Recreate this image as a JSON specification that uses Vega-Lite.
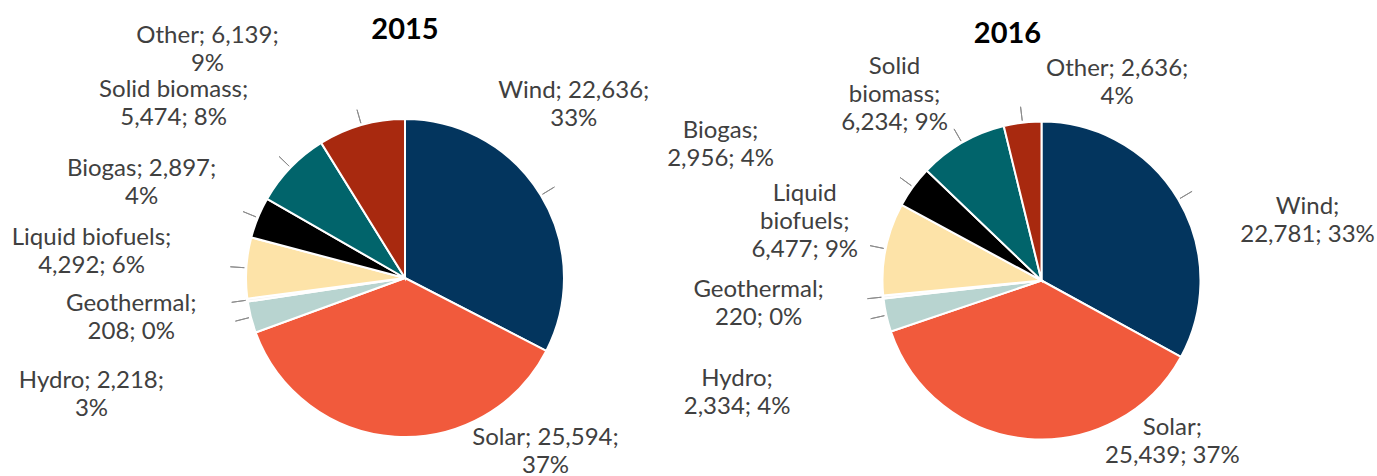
{
  "$schema": "https://vega.github.io/schema/vega-lite/v6.json",
  "background": "white",
  "padding": {"left": 11, "top": 16, "right": 0, "bottom": 0},
  "config": {"view": {"stroke": null}, "font": "Lato"},
  "datasets": {
    "energy": [
      {"year": "2015", "k": 1, "category": "Wind", "value": 22636, "label": "Wind; 22,636;|33%"},
      {"year": "2015", "k": 2, "category": "Solar", "value": 25594, "label": "Solar; 25,594;|37%"},
      {"year": "2015", "k": 3, "category": "Hydro", "value": 2218, "label": "Hydro; 2,218;|3%"},
      {"year": "2015", "k": 4, "category": "Geothermal", "value": 208, "label": "Geothermal;|208; 0%"},
      {"year": "2015", "k": 5, "category": "Liquid biofuels", "value": 4292, "label": "Liquid biofuels;|4,292; 6%"},
      {"year": "2015", "k": 6, "category": "Biogas", "value": 2897, "label": "Biogas; 2,897;|4%"},
      {"year": "2015", "k": 7, "category": "Solid biomass", "value": 5474, "label": "Solid biomass;|5,474; 8%"},
      {"year": "2015", "k": 8, "category": "Other", "value": 6139, "label": "Other; 6,139;|9%"},
      {"year": "2016", "k": 1, "category": "Wind", "value": 22781, "label": "Wind;|22,781; 33%"},
      {"year": "2016", "k": 2, "category": "Solar", "value": 25439, "label": "Solar;|25,439; 37%"},
      {"year": "2016", "k": 3, "category": "Hydro", "value": 2334, "label": "Hydro;|2,334; 4%"},
      {"year": "2016", "k": 4, "category": "Geothermal", "value": 220, "label": "Geothermal;|220; 0%"},
      {"year": "2016", "k": 5, "category": "Liquid biofuels", "value": 6477, "label": "Liquid|biofuels;|6,477; 9%"},
      {"year": "2016", "k": 6, "category": "Biogas", "value": 2956, "label": "Biogas;|2,956; 4%"},
      {"year": "2016", "k": 7, "category": "Solid biomass", "value": 6234, "label": "Solid|biomass;|6,234; 9%"},
      {"year": "2016", "k": 8, "category": "Other", "value": 2636, "label": "Other; 2,636;|4%"}
    ]
  },
  "data": {"name": "energy"},
  "bounds": "flush",
  "spacing": 16.5,
  "hconcat": [
    {
      "width": 620,
      "height": 360,
      "title": {"text": "2015", "font": "Lato", "fontSize": 29, "fontWeight": "bold", "color": "#000000", "anchor": "middle", "frame": "group", "baseline": "middle", "offset": -35.5},
      "transform": [
        {"filter": "datum.year == '2015'"},
        {"stack": "value", "groupby": ["year"], "sort": [{"field": "k", "order": "ascending"}], "offset": "normalize", "as": ["s0", "s1"]}
      ],
      "layer": [
        {
          "mark": {"type": "arc", "radius": 159, "stroke": "white", "strokeWidth": 2},
          "encoding": {
            "theta": {"field": "s0", "type": "quantitative", "scale": {"domain": [0, 1]}},
            "theta2": {"field": "s1"},
            "color": {"field": "category", "type": "nominal", "legend": null,
              "scale": {"domain": ["Wind", "Solar", "Hydro", "Geothermal", "Liquid biofuels", "Biogas", "Solid biomass", "Other"],
                        "range": ["#03355E", "#F15A3C", "#B8D4D0", "#F4F4F4", "#FDE3A8", "#000000", "#01646B", "#A8290F"]}}
          }
        },
        {
          "transform": [{"filter": "datum.category != 'Solar'"}],
          "mark": {"type": "arc", "radius": 175, "radius2": 161, "padAngle": 1.487, "fillOpacity": 0, "stroke": "#8c8c8c", "strokeWidth": 1},
          "encoding": {
            "theta": {"field": "s0", "type": "quantitative", "scale": {"domain": [0, 1]}},
            "theta2": {"field": "s1"}
          }
        },
        {"transform": [{"filter": "datum.category == 'Wind'"}, {"fold": ["s0", "s1"], "as": ["edge", "pos"]}],
         "mark": {"type": "text", "radius": 252, "thetaOffset": -0.290, "font": "Lato", "fontSize": 24, "color": "#404040", "lineBreak": "|", "lineHeight": 28, "align": "center", "baseline": "middle"},
         "encoding": {"theta": {"field": "pos", "aggregate": "mean", "type": "quantitative", "scale": {"domain": [0, 1]}}, "text": {"field": "label", "type": "nominal"}}},
        {"transform": [{"filter": "datum.category == 'Solar'"}, {"fold": ["s0", "s1"], "as": ["edge", "pos"]}],
         "mark": {"type": "text", "radius": 213, "thetaOffset": -0.784, "font": "Lato", "fontSize": 24, "color": "#404040", "lineBreak": "|", "lineHeight": 28, "align": "center", "baseline": "middle"},
         "encoding": {"theta": {"field": "pos", "aggregate": "mean", "type": "quantitative", "scale": {"domain": [0, 1]}}, "text": {"field": "label", "type": "nominal"}}},
        {"transform": [{"filter": "datum.category == 'Hydro'"}, {"fold": ["s0", "s1"], "as": ["edge", "pos"]}],
         "mark": {"type": "text", "radius": 330, "thetaOffset": -0.068, "font": "Lato", "fontSize": 24, "color": "#404040", "lineBreak": "|", "lineHeight": 28, "align": "center", "baseline": "middle"},
         "encoding": {"theta": {"field": "pos", "aggregate": "mean", "type": "quantitative", "scale": {"domain": [0, 1]}}, "text": {"field": "label", "type": "nominal"}}},
        {"transform": [{"filter": "datum.category == 'Geothermal'"}, {"fold": ["s0", "s1"], "as": ["edge", "pos"]}],
         "mark": {"type": "text", "radius": 275, "thetaOffset": 0.045, "font": "Lato", "fontSize": 24, "color": "#404040", "lineBreak": "|", "lineHeight": 28, "align": "center", "baseline": "middle"},
         "encoding": {"theta": {"field": "pos", "aggregate": "mean", "type": "quantitative", "scale": {"domain": [0, 1]}}, "text": {"field": "label", "type": "nominal"}}},
        {"transform": [{"filter": "datum.category == 'Liquid biofuels'"}, {"fold": ["s0", "s1"], "as": ["edge", "pos"]}],
         "mark": {"type": "text", "radius": 316, "thetaOffset": 0.063, "font": "Lato", "fontSize": 24, "color": "#404040", "lineBreak": "|", "lineHeight": 28, "align": "center", "baseline": "middle"},
         "encoding": {"theta": {"field": "pos", "aggregate": "mean", "type": "quantitative", "scale": {"domain": [0, 1]}}, "text": {"field": "label", "type": "nominal"}}},
        {"transform": [{"filter": "datum.category == 'Biogas'"}, {"fold": ["s0", "s1"], "as": ["edge", "pos"]}],
         "mark": {"type": "text", "radius": 285, "thetaOffset": 0.003, "font": "Lato", "fontSize": 24, "color": "#404040", "lineBreak": "|", "lineHeight": 28, "align": "center", "baseline": "middle"},
         "encoding": {"theta": {"field": "pos", "aggregate": "mean", "type": "quantitative", "scale": {"domain": [0, 1]}}, "text": {"field": "label", "type": "nominal"}}},
        {"transform": [{"filter": "datum.category == 'Solid biomass'"}, {"fold": ["s0", "s1"], "as": ["edge", "pos"]}],
         "mark": {"type": "text", "radius": 298, "thetaOffset": -0.086, "font": "Lato", "fontSize": 24, "color": "#404040", "lineBreak": "|", "lineHeight": 28, "align": "center", "baseline": "middle"},
         "encoding": {"theta": {"field": "pos", "aggregate": "mean", "type": "quantitative", "scale": {"domain": [0, 1]}}, "text": {"field": "label", "type": "nominal"}}},
        {"transform": [{"filter": "datum.category == 'Other'"}, {"fold": ["s0", "s1"], "as": ["edge", "pos"]}],
         "mark": {"type": "text", "radius": 312.4, "thetaOffset": -0.4067, "font": "Lato", "fontSize": 24, "color": "#404040", "lineBreak": "|", "lineHeight": 28, "align": "center", "baseline": "middle"},
         "encoding": {"theta": {"field": "pos", "aggregate": "mean", "type": "quantitative", "scale": {"domain": [0, 1]}}, "text": {"field": "label", "type": "nominal"}}}
      ]
    },
    {
      "width": 620,
      "height": 365,
      "title": {"text": "2016", "font": "Lato", "fontSize": 29, "fontWeight": "bold", "color": "#000000", "anchor": "middle", "frame": "group", "baseline": "middle", "offset": -7.5, "dx": -34},
      "transform": [
        {"filter": "datum.year == '2016'"},
        {"stack": "value", "groupby": ["year"], "sort": [{"field": "k", "order": "ascending"}], "offset": "normalize", "as": ["s0", "s1"]}
      ],
      "layer": [
        {
          "mark": {"type": "arc", "radius": 159, "stroke": "white", "strokeWidth": 2},
          "encoding": {
            "theta": {"field": "s0", "type": "quantitative", "scale": {"domain": [0, 1]}},
            "theta2": {"field": "s1"},
            "color": {"field": "category", "type": "nominal", "legend": null,
              "scale": {"domain": ["Wind", "Solar", "Hydro", "Geothermal", "Liquid biofuels", "Biogas", "Solid biomass", "Other"],
                        "range": ["#03355E", "#F15A3C", "#B8D4D0", "#F4F4F4", "#FDE3A8", "#000000", "#01646B", "#A8290F"]}}
          }
        },
        {
          "transform": [{"filter": "datum.category != 'Solar'"}],
          "mark": {"type": "arc", "radius": 175, "radius2": 161, "padAngle": 1.487, "fillOpacity": 0, "stroke": "#8c8c8c", "strokeWidth": 1},
          "encoding": {
            "theta": {"field": "s0", "type": "quantitative", "scale": {"domain": [0, 1]}},
            "theta2": {"field": "s1"}
          }
        },
        {"transform": [{"filter": "datum.category == 'Wind'"}, {"fold": ["s0", "s1"], "as": ["edge", "pos"]}],
         "mark": {"type": "text", "radius": 276, "thetaOffset": 0.265, "font": "Lato", "fontSize": 24, "color": "#404040", "lineBreak": "|", "lineHeight": 28, "align": "center", "baseline": "middle"},
         "encoding": {"theta": {"field": "pos", "aggregate": "mean", "type": "quantitative", "scale": {"domain": [0, 1]}}, "text": {"field": "label", "type": "nominal"}}},
        {"transform": [{"filter": "datum.category == 'Solar'"}, {"fold": ["s0", "s1"], "as": ["edge", "pos"]}],
         "mark": {"type": "text", "radius": 197, "thetaOffset": -0.814, "font": "Lato", "fontSize": 24, "color": "#404040", "lineBreak": "|", "lineHeight": 28, "align": "center", "baseline": "middle"},
         "encoding": {"theta": {"field": "pos", "aggregate": "mean", "type": "quantitative", "scale": {"domain": [0, 1]}}, "text": {"field": "label", "type": "nominal"}}},
        {"transform": [{"filter": "datum.category == 'Hydro'"}, {"fold": ["s0", "s1"], "as": ["edge", "pos"]}],
         "mark": {"type": "text", "radius": 320, "thetaOffset": -0.093, "font": "Lato", "fontSize": 24, "color": "#404040", "lineBreak": "|", "lineHeight": 28, "align": "center", "baseline": "middle"},
         "encoding": {"theta": {"field": "pos", "aggregate": "mean", "type": "quantitative", "scale": {"domain": [0, 1]}}, "text": {"field": "label", "type": "nominal"}}},
        {"transform": [{"filter": "datum.category == 'Geothermal'"}, {"fold": ["s0", "s1"], "as": ["edge", "pos"]}],
         "mark": {"type": "text", "radius": 283, "thetaOffset": 0.071, "font": "Lato", "fontSize": 24, "color": "#404040", "lineBreak": "|", "lineHeight": 28, "align": "center", "baseline": "middle"},
         "encoding": {"theta": {"field": "pos", "aggregate": "mean", "type": "quantitative", "scale": {"domain": [0, 1]}}, "text": {"field": "label", "type": "nominal"}}},
        {"transform": [{"filter": "datum.category == 'Liquid biofuels'"}, {"fold": ["s0", "s1"], "as": ["edge", "pos"]}],
         "mark": {"type": "text", "radius": 252, "thetaOffset": 0.149, "font": "Lato", "fontSize": 24, "color": "#404040", "lineBreak": "|", "lineHeight": 28, "align": "center", "baseline": "middle"},
         "encoding": {"theta": {"field": "pos", "aggregate": "mean", "type": "quantitative", "scale": {"domain": [0, 1]}}, "text": {"field": "label", "type": "nominal"}}},
        {"transform": [{"filter": "datum.category == 'Biogas'"}, {"fold": ["s0", "s1"], "as": ["edge", "pos"]}],
         "mark": {"type": "text", "radius": 354, "thetaOffset": -0.194, "font": "Lato", "fontSize": 24, "color": "#404040", "lineBreak": "|", "lineHeight": 28, "align": "center", "baseline": "middle"},
         "encoding": {"theta": {"field": "pos", "aggregate": "mean", "type": "quantitative", "scale": {"domain": [0, 1]}}, "text": {"field": "label", "type": "nominal"}}},
        {"transform": [{"filter": "datum.category == 'Solid biomass'"}, {"fold": ["s0", "s1"], "as": ["edge", "pos"]}],
         "mark": {"type": "text", "radius": 259, "thetaOffset": -0.080, "font": "Lato", "fontSize": 24, "color": "#404040", "lineBreak": "|", "lineHeight": 28, "align": "center", "baseline": "middle"},
         "encoding": {"theta": {"field": "pos", "aggregate": "mean", "type": "quantitative", "scale": {"domain": [0, 1]}}, "text": {"field": "label", "type": "nominal"}}},
        {"transform": [{"filter": "datum.category == 'Other'"}, {"fold": ["s0", "s1"], "as": ["edge", "pos"]}],
         "mark": {"type": "text", "radius": 225, "thetaOffset": 0.463, "font": "Lato", "fontSize": 24, "color": "#404040", "lineBreak": "|", "lineHeight": 28, "align": "center", "baseline": "middle"},
         "encoding": {"theta": {"field": "pos", "aggregate": "mean", "type": "quantitative", "scale": {"domain": [0, 1]}}, "text": {"field": "label", "type": "nominal"}}}
      ]
    }
  ]
}
